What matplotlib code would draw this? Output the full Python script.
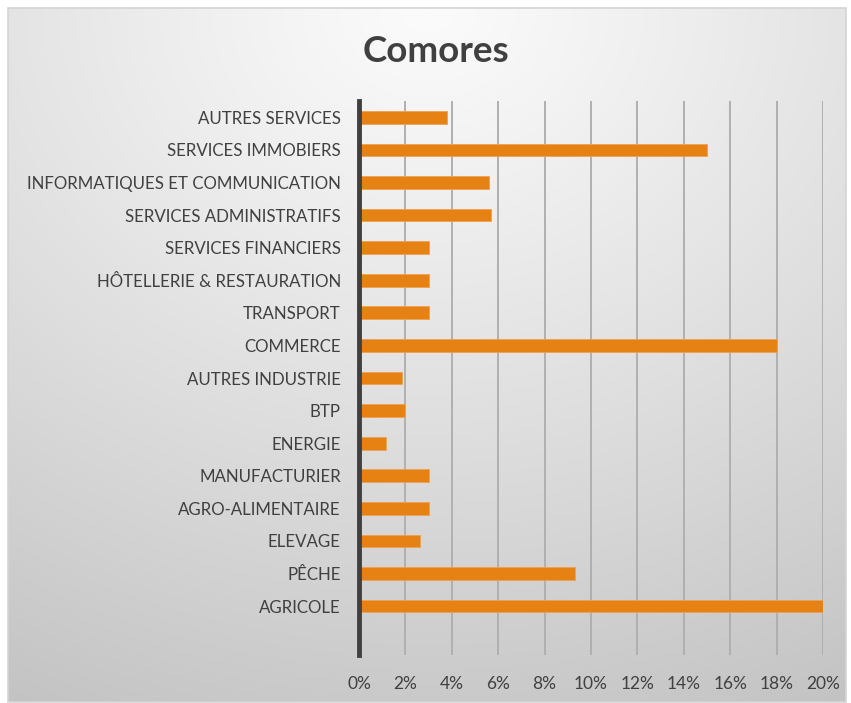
import numpy as np
import matplotlib
matplotlib.use("Agg")
import matplotlib.pyplot as plt
from matplotlib.patches import Rectangle
from matplotlib.ticker import PercentFormatter

title = "Comores"
categories = ["AGRICOLE", "PÊCHE", "ELEVAGE", "AGRO-ALIMENTAIRE", "MANUFACTURIER",
              "ENERGIE", "BTP", "AUTRES INDUSTRIE", "COMMERCE", "TRANSPORT",
              "HÔTELLERIE & RESTAURATION", "SERVICES FINANCIERS",
              "SERVICES ADMINISTRATIFS", "INFORMATIQUES ET COMMUNICATION",
              "SERVICES IMMOBIERS", "AUTRES SERVICES"]
values = [20.0, 9.3, 2.65, 3.0, 3.0, 1.15, 2.0, 1.85, 18.0, 3.0, 3.0, 3.0,
          5.7, 5.6, 15.0, 3.8]
xticks = [0, 2, 4, 6, 8, 10, 12, 14, 16, 18, 20]

W, H = 851, 703
fig = plt.figure(figsize=(W / 100, H / 100), dpi=100)
fig.patch.set_facecolor("white")

# background gradient panel
bx0, by0, bx1, by1 = 8, 8, 846, 702
bg = fig.add_axes([bx0 / W, 1 - by1 / H, (bx1 - bx0) / W, (by1 - by0) / H], zorder=0)
ny, nx = 300, 400
yy, xx = np.mgrid[0:ny, 0:nx]
cx, cy = nx * 0.5, ny * 0.0
d = np.sqrt(((xx - cx) / nx) ** 2 + ((yy - cy) / ny) ** 2)
d = d / d.max()
val = 0.985 - 0.22 * np.clip(d, 0, 1) ** 1.1
img = np.dstack([val, val, val])
bg.imshow(img, aspect="auto", extent=[0, 1, 1, 0], interpolation="bilinear")
bg.set_xlim(0, 1); bg.set_ylim(1, 0)
bg.axis("off")
fig.add_artist(Rectangle((bx0 / W, 1 - by1 / H), (bx1 - bx0) / W, (by1 - by0) / H,
                         transform=fig.transFigure, fill=False, edgecolor="#d4d4d4",
                         linewidth=1.2, zorder=1))

ax = fig.add_axes([359 / W, 1 - 655 / H, (823 - 359) / W, (655 - 101) / H], zorder=2)
ax.patch.set_alpha(0)
y = np.arange(len(categories))
ax.barh(y, values, height=0.39, color="#E58213", edgecolor="#F0A050", linewidth=0.6, zorder=3)
ax.set_ylim(-1.5, len(categories) - 0.5)
ax.set_xlim(0, 20)
ax.set_yticks(y)
ax.set_yticklabels(categories, family="Lato", fontsize=12.2, color="#404040")
ax.set_xticks(xticks)
ax.xaxis.set_major_formatter(PercentFormatter(decimals=0))
for lab in ax.get_xticklabels():
    lab.set_family("Lato"); lab.set_fontsize(12.5); lab.set_color("#404040")
ax.tick_params(axis="both", length=0)
ax.tick_params(axis="y", pad=13)
ax.tick_params(axis="x", pad=15)
for x in xticks[1:]:
    ax.axvline(x, color="#b0b0b0", linewidth=1.4, zorder=1)
for s in ["top", "right", "bottom"]:
    ax.spines[s].set_visible(False)
ax.spines["left"].set_color("#404040")
ax.spines["left"].set_linewidth(3.5)
ax.spines["left"].set_zorder(4)

fig.text(436 / W, 1 - 51 / H, title, ha="center", va="center", family="Lato",
         fontweight="bold", fontsize=26.5, color="#404040")

fig.savefig("out.png", dpi=100)
